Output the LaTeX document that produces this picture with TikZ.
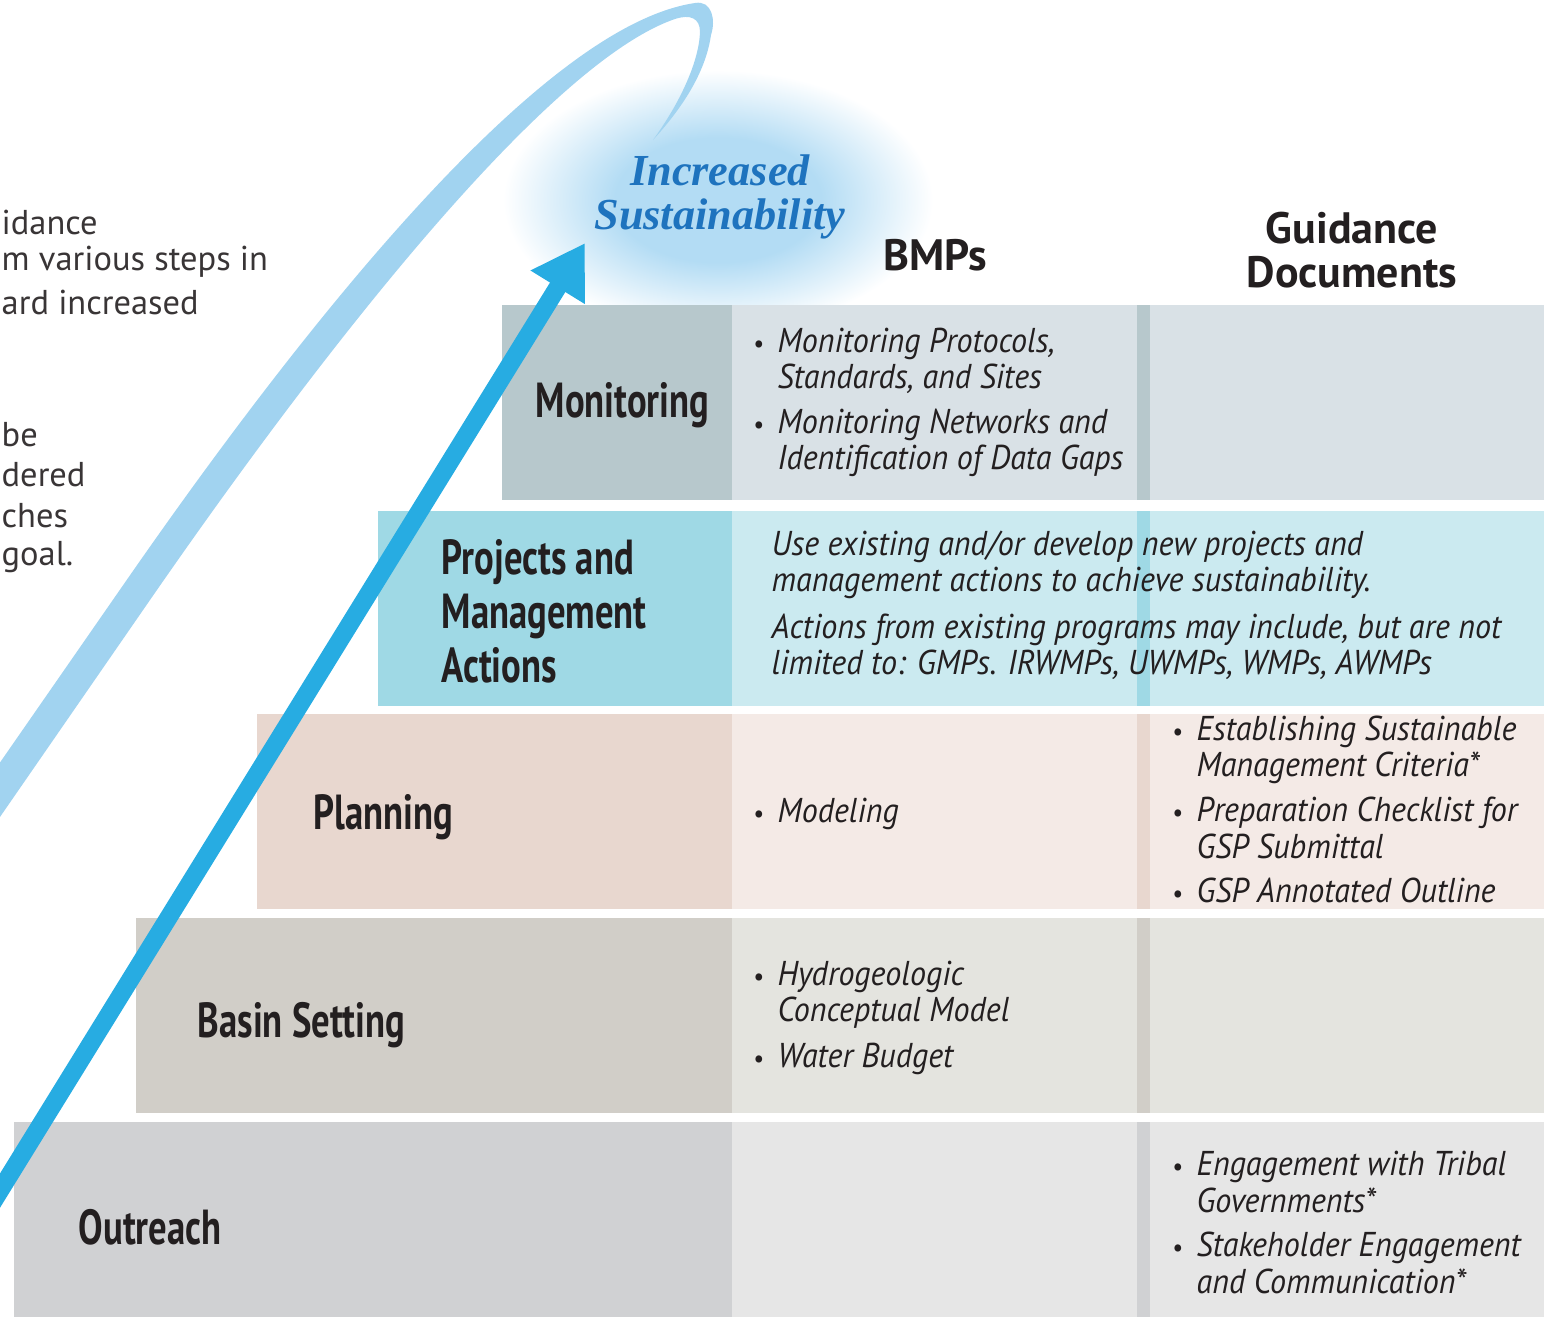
\documentclass[tikz,border=0pt]{standalone}
\usepackage{fontspec}
\setmainfont{PT Sans}
\newfontfamily\condfont[FakeStretch=0.745]{PT Sans}
\newfontfamily\itemfont[FakeStretch=0.93]{PT Sans}
\newfontfamily\goalfont{Liberation Serif}
\usetikzlibrary{arrows.meta}

\definecolor{ink}{HTML}{231F20}
\definecolor{goalc}{HTML}{1E73BE}
\definecolor{glowc}{HTML}{B3DCF4}
\definecolor{swooshc}{HTML}{A1D3F0}
\definecolor{risec}{HTML}{27ACE2}
\definecolor{monA}{HTML}{B7C8CC}
\definecolor{monB}{HTML}{D9E1E6}
\definecolor{pmaA}{HTML}{9FD9E5}
\definecolor{pmaB}{HTML}{CBEAF0}
\definecolor{plnA}{HTML}{E8D7CF}
\definecolor{plnB}{HTML}{F4EAE6}
\definecolor{basA}{HTML}{D1CEC8}
\definecolor{basB}{HTML}{E4E4DF}
\definecolor{outA}{HTML}{D0D1D3}
\definecolor{outB}{HTML}{E6E6E6}

\pgfdeclareradialshading{glow}{\pgfpoint{0bp}{0bp}}{color(0bp)=(glowc); color(12bp)=(glowc); color(25bp)=(white); color(50bp)=(white)}

\newcommand\bul{\llap{\scalebox{0.75}{\textbullet}\hspace{4pt}}}

\tikzset{
  steplabel/.style={font=\condfont\bfseries\fontsize{14}{15.4}\selectfont, text=ink, anchor=west, align=left, inner sep=0pt},
  item/.style={font=\itemfont\itshape\fontsize{9.8}{10.3}\selectfont, text=ink, anchor=west, align=left, inner sep=0pt},
  colhead/.style={font=\bfseries\fontsize{12.5}{12.5}\selectfont, text=ink, align=center, inner sep=0pt},
  goaltext/.style={font=\goalfont\bfseries\itshape\fontsize{12.6}{12.4}\selectfont, text=goalc, align=center, inner sep=0pt},
  aside/.style={font=\fontsize{9.8}{11.4}\selectfont, text=ink!90, anchor=west, inner sep=0pt},
  rise/.style={draw=risec, line width=0.18cm, -{Triangle[length=0.52cm, width=0.6cm]}},
}

\begin{document}
\begin{tikzpicture}[x=0.01cm, y=-0.01cm]
\useasboundingbox (0,0) rectangle (1544,1317);
\clip (0,0) rectangle (1544,1317);

% glow behind the goal
\shade[shading=glow] (718,200) ellipse [x radius=215, y radius=130];

% swoosh
\fill[swooshc] (-42,823) -- (126,581) .. controls (314,310) and (545,25) .. (695,3)
  .. controls (712,0) and (716,20) .. (711,35)
  .. controls (706,70) and (685,105) .. (653,140)
  .. controls (682,100) and (699,60) .. (700,32)
  .. controls (700,18) and (690,14) .. (675,19)
  .. controls (555,60) and (345,318) .. (150,600) -- (-18,843) -- cycle;

% steps
\foreach \ya/\xa/\cl/\cr in {305/502/monA/monB, 511/378/pmaA/pmaB, 714/257/plnA/plnB, 918/136/basA/basB, 1122/14/outA/outB}{
  \fill[\cl] (\xa,\ya) rectangle (732,\ya+195);
  \fill[\cr] (732,\ya) rectangle (1544,\ya+195);
  \fill[\cl] (1137,\ya) rectangle (1150,\ya+195);
}

% rising arrow
\coordinate (base) at (-20,1223);
\coordinate (tip) at (585,243);
\draw[rise] (base) -- (tip);

% headings
\node[goaltext] (goal) at (720,197) {Increased\\Sustainability};
\node[colhead] (bmps) at (935,255) {BMPs};
\node[colhead] (gdocs) at (1352,250) {Guidance\\Documents};

% side text
\node[aside] (s1) at (1,222) {idance};
\node[aside] (s2) at (1,262) {m various steps in};
\node[aside] (s3) at (1,302) {ard increased};
\node[aside] (s4) at (1,435) {be};
\node[aside] (s5) at (1,475) {dered};
\node[aside] (s6) at (1,516) {ches};
\node[aside] (s7) at (1,557) {goal.};

% step labels
\node[steplabel] (mon) at (535,405) {Monitoring};
\node[steplabel] (pma) at (441,611) {Projects and\\Management\\Actions};
\node[steplabel] (pln) at (313,817) {Planning};
\node[steplabel] (bas) at (197,1025) {Basin Setting};
\node[steplabel] (out) at (78,1227) {Outreach};

% BMPs and guidance
\node[item] (m1) at (777,361) {\bul Monitoring Protocols,\\Standards, and Sites};
\node[item] (m2) at (777,443) {\bul Monitoring Networks and\\Identification of Data Gaps};
\node[item] (p1) at (771,565) {Use existing and/or develop new projects and\\management actions to achieve sustainability.};
\node[item] (p2) at (771,647) {Actions from existing programs may include, but are not\\limited to: GMPs. IRWMPs, UWMPs, WMPs, AWMPs};
\node[item] (l1) at (777,814) {\bul Modeling};
\node[item] (g1) at (1196,750) {\bul Establishing Sustainable\\Management Criteria*};
\node[item] (g2) at (1196,828) {\bul Preparation Checklist for\\GSP Submittal};
\node[item] (g3) at (1196,890) {\bul GSP Annotated Outline};
\node[item] (b1) at (777,995) {\bul Hydrogeologic\\Conceptual Model};
\node[item] (b2) at (777,1059) {\bul Water Budget};
\node[item] (o1) at (1196,1182) {\bul Engagement with Tribal\\Governments*};
\node[item] (o2) at (1196,1263) {\bul Stakeholder Engagement\\and Communication*};
\end{tikzpicture}
\end{document}
